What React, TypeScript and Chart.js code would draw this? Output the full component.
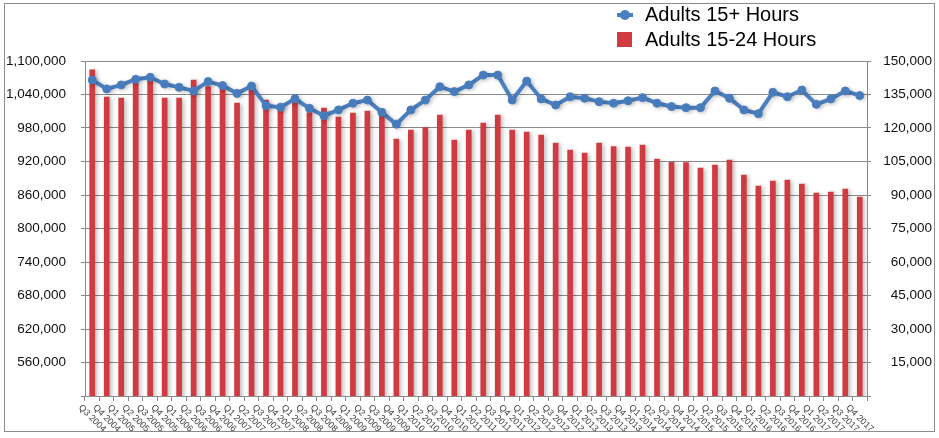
import { Chart, registerables } from "chart.js";
import { useEffect, useRef } from "react";

Chart.register(...registerables);

const quarters = [
  'Q3 2004', 'Q4 2004',
  'Q1 2005', 'Q2 2005', 'Q3 2005', 'Q4 2005',
  'Q1 2006', 'Q2 2006', 'Q3 2006', 'Q4 2006',
  'Q1 2007', 'Q2 2007', 'Q3 2007', 'Q4 2007',
  'Q1 2008', 'Q2 2008', 'Q3 2008', 'Q4 2008',
  'Q1 2009', 'Q2 2009', 'Q3 2009', 'Q4 2009',
  'Q1 2010', 'Q2 2010', 'Q3 2010', 'Q4 2010',
  'Q1 2011', 'Q2 2011', 'Q3 2011', 'Q4 2011',
  'Q1 2012', 'Q2 2012', 'Q3 2012', 'Q4 2012',
  'Q1 2013', 'Q2 2013', 'Q3 2013', 'Q4 2013',
  'Q1 2014', 'Q2 2014', 'Q3 2014', 'Q4 2014',
  'Q1 2015', 'Q2 2015', 'Q3 2015', 'Q4 2015',
  'Q1 2016', 'Q2 2016', 'Q3 2016', 'Q4 2016',
  'Q1 2017', 'Q2 2017', 'Q3 2017', 'Q4 2017'
];

// right axis
const adults15Plus = [
  141500, 137500, 139300, 141800, 142700, 139700, 138200, 136600, 140800, 139000,
  135500, 138800, 130000, 129300, 133100, 128800, 125500, 128100, 131100, 132500,
  127000, 121700, 128100, 132500, 138500, 136300, 139300, 143700, 143700, 132500,
  141000, 133000, 130300, 134000, 133300, 131800, 131100, 132200, 133600, 131100,
  129600, 129100, 129100, 136600, 133300, 128100, 126400, 136000, 134000, 137000,
  130600, 133000, 136600, 134500
];

// left axis
const adults15to24 = [
  1084000, 1035500, 1033700, 1060000, 1067000, 1033700, 1033700, 1066000, 1054000, 1051000,
  1024800, 1051000, 1030000, 1021000, 1030000, 1007400, 1015800, 999700, 1006900, 1010400,
  1002000, 960300, 976400, 980600, 1003300, 958500, 976400, 989000, 1003300, 976400,
  972800, 967500, 953100, 940600, 935200, 953100, 946500, 946000, 949600, 924500,
  918600, 918000, 908400, 913700, 922700, 895800, 876100, 885100, 886900, 879700,
  863600, 865400, 870800, 856400
];

const BLUE = '#4a7fc1';
const RED = '#d03a41';
const GRID = '#8a8a8a';
const FONT = '"Liberation Sans", Arial, sans-serif';

const barShadow = {
  id: 'barShadow',
  beforeDatasetDraw(chart: any, args: any) {
    const ctx = chart.ctx;
    ctx.save();
    ctx.shadowColor = 'rgba(0,0,0,0.28)';
    ctx.shadowBlur = 4;
    ctx.shadowOffsetX = 2;
    ctx.shadowOffsetY = 1;
    if (args.index === 0) ctx.shadowColor = 'rgba(0,0,0,0.18)';
  },
  afterDatasetDraw(chart: any) {
    chart.ctx.restore();
  }
};

// Excel style slanted labels, reading downwards to the right
const slantLabels = {
  id: 'slantLabels',
  afterDraw(chart: any) {
    const x = chart.scales.x;
    const ctx = chart.ctx;
    ctx.save();
    ctx.font = '9px ' + FONT;
    ctx.fillStyle = '#404040';
    ctx.textAlign = 'center';
    ctx.textBaseline = 'middle';
    quarters.forEach((lab, i) => {
      const px = x.getPixelForTick(i);
      const w = ctx.measureText(lab).width;
      const cy = x.top + 7 + (w + 9) * 0.7071 / 2;
      ctx.save();
      ctx.translate(px, cy);
      ctx.rotate(Math.PI / 4);
      ctx.fillText(lab, 0, 0);
      ctx.restore();
    });
    ctx.restore();
  }
};

const App = () => {
  const canvasRef = useRef<HTMLCanvasElement | null>(null);

  useEffect(() => {
    if (!canvasRef.current) return;

    const chart = new Chart(canvasRef.current, {
      type: 'bar',
      data: {
        labels: quarters,
        datasets: [
          {
            type: 'line',
            label: 'Adults 15+ Hours',
            data: adults15Plus,
            yAxisID: 'y1',
            borderColor: BLUE,
            backgroundColor: BLUE,
            borderWidth: 4,
            pointRadius: 4,
            pointBackgroundColor: BLUE,
            pointBorderColor: BLUE,
            pointBorderWidth: 1,
            tension: 0
          } as any,
          {
            type: 'bar',
            label: 'Adults 15-24 Hours',
            data: adults15to24,
            yAxisID: 'y',
            backgroundColor: RED,
            barThickness: 5
          }
        ]
      },
      options: {
        responsive: false,
        animation: false,
        layout: {
          padding: { top: 61, right: 7, left: 0, bottom: 0 }
        },
        plugins: {
          legend: { display: false },
          tooltip: { enabled: false }
        },
        scales: {
          x: {
            grid: {
              drawOnChartArea: false,
              color: GRID,
              tickLength: 5
            },
            border: { color: GRID },
            ticks: { display: false },
            afterFit: (scale: any) => { scale.height = 42; }
          },
          y: {
            position: 'left',
            min: 500000,
            max: 1100000,
            grid: { color: GRID, tickLength: 4 },
            border: { color: GRID },
            ticks: {
              stepSize: 60000,
              padding: 15,
              color: '#111',
              font: { family: FONT, size: 13.5 },
              callback: (v: any) => (v === 500000 ? '' : Number(v).toLocaleString('en-US'))
            },
            afterFit: (scale: any) => { scale.width = 85; }
          },
          y1: {
            position: 'right',
            min: 0,
            max: 150000,
            grid: { drawOnChartArea: false, color: GRID, tickLength: 4 },
            border: { color: GRID },
            ticks: {
              stepSize: 15000,
              crossAlign: 'far',
              color: '#111',
              font: { family: FONT, size: 13.5 },
              callback: (v: any) => (v === 0 ? '' : Number(v).toLocaleString('en-US'))
            },
            afterFit: (scale: any) => { scale.width = 65; }
          }
        }
      },
      plugins: [barShadow, slantLabels]
    });

    return () => {
      chart.destroy();
    };
  }, []);

  return (
    <div style={{ position: 'absolute', left: 0, top: 0, width: 939, height: 438 }}>
      <div
        style={{
          position: 'absolute', left: 4, top: 3, width: 929, height: 427,
          border: '1px solid #8c8c8c', boxSizing: 'content-box'
        }}
      />
      <canvas ref={canvasRef} width={939} height={438} style={{ position: 'absolute', left: 0, top: 0 }}></canvas>
      <div style={{ position: 'absolute', left: 617, top: 2, fontFamily: FONT, fontSize: 20, color: '#000', lineHeight: '25px' }}>
        <div style={{ display: 'flex', alignItems: 'center', height: 25 }}>
          <span style={{ position: 'relative', width: 16, height: 10, marginRight: 12 }}>
            <span style={{ position: 'absolute', left: 0, top: 3, width: 16, height: 4, background: BLUE }} />
            <span style={{ position: 'absolute', left: 3, top: 0, width: 10, height: 10, borderRadius: 5, background: BLUE }} />
          </span>
          <span>Adults 15+ Hours</span>
        </div>
        <div style={{ display: 'flex', alignItems: 'center', height: 25 }}>
          <span style={{ width: 15, height: 15, background: RED, marginRight: 13 }} />
          <span>Adults 15-24 Hours</span>
        </div>
      </div>
    </div>
  );
};

export default App;
